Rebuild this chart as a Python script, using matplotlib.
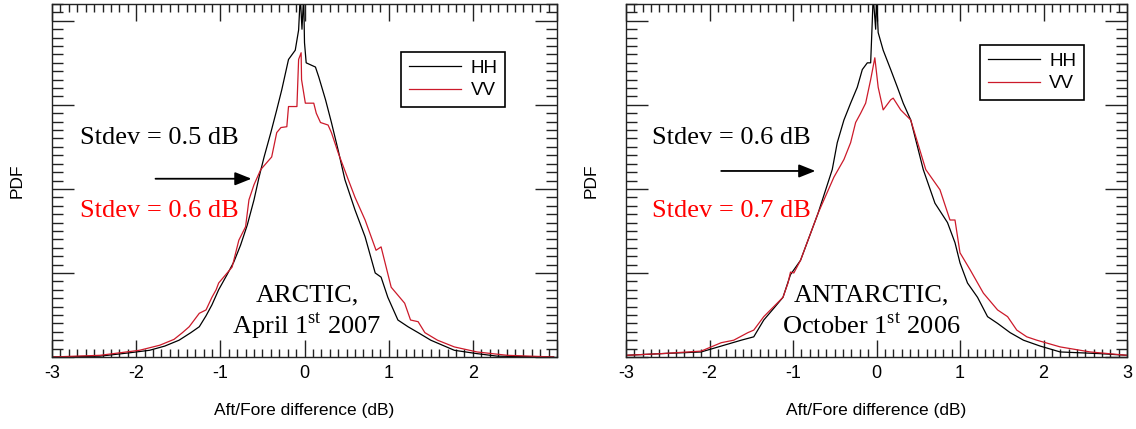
import matplotlib
matplotlib.use("Agg")
import matplotlib.pyplot as plt
from matplotlib.ticker import MultipleLocator, NullFormatter

plt.rcParams['axes.unicode_minus'] = False
plt.rcParams['mathtext.fontset'] = 'custom'
plt.rcParams['mathtext.rm'] = 'Liberation Serif'

# ---- data (x in dB, y in arbitrary PDF units) ----
arctic_hh_x = [-3.00, -2.43, -2.08, -1.84, -1.66, -1.49, -1.35, -1.25, -1.17, -1.10, -1.02, -0.92, -0.84,
               -0.76, -0.68, -0.60, -0.54, -0.48, -0.40, -0.33, -0.27, -0.19, -0.11, -0.07, -0.05, -0.03,
               -0.01, 0.00, 0.02, 0.13, 0.17, 0.25, 0.32, 0.40, 0.48, 0.60, 0.72, 0.84, 0.91, 0.99, 1.11,
               1.23, 1.35, 1.50, 1.78, 2.05, 2.29, 2.96]
arctic_hh_y = [0.00, 0.01, 0.05, 0.08, 0.13, 0.20, 0.29, 0.36, 0.49, 0.62, 0.80, 0.98, 1.13,
               1.33, 1.57, 1.87, 2.14, 2.38, 2.67, 2.94, 3.18, 3.54, 3.65, 3.89, 4.30, 3.90,
               4.30, 3.74, 3.50, 3.45, 3.33, 3.06, 2.79, 2.46, 2.11, 1.75, 1.43, 1.00, 0.95, 0.71, 0.44,
               0.36, 0.29, 0.20, 0.08, 0.04, 0.01, 0.00]

arctic_vv_x = [-3.00, -2.43, -1.96, -1.72, -1.55, -1.45, -1.37, -1.25, -1.17, -1.10, -1.05, -1.02, -0.86,
               -0.78, -0.70, -0.66, -0.60, -0.52, -0.39, -0.33, -0.28, -0.21, -0.19, -0.09, -0.07, -0.04,
               -0.035, 0.01, 0.11, 0.14, 0.19, 0.28, 0.32, 0.40, 0.52, 0.60, 0.72, 0.85, 0.91, 0.97, 1.03,
               1.19, 1.26, 1.35, 1.43, 1.58, 1.78, 2.05, 2.41, 2.96]
arctic_vv_y = [0.00, 0.02, 0.08, 0.14, 0.21, 0.29, 0.36, 0.52, 0.56, 0.71, 0.80, 0.88, 1.07,
               1.39, 1.55, 1.87, 2.05, 2.23, 2.38, 2.67, 2.73, 2.74, 2.98, 2.98, 3.54, 3.62,
               3.30, 3.02, 3.02, 2.90, 2.79, 2.76, 2.67, 2.43, 2.11, 1.90, 1.63, 1.27, 1.31, 1.07, 0.83,
               0.64, 0.44, 0.42, 0.29, 0.20, 0.12, 0.06, 0.02, 0.00]

antarc_hh_x = [-3.00, -2.58, -2.10, -1.86, -1.62, -1.47, -1.35, -1.23, -1.12, -1.03, -0.91, -0.70, -0.53,
               -0.47, -0.39, -0.31, -0.23, -0.17, -0.11, -0.07, -0.05, -0.04, -0.01, 0.00, 0.02, 0.08,
               0.17, 0.25, 0.32, 0.41, 0.56, 0.70, 0.85, 0.94, 1.00, 1.09, 1.21, 1.33, 1.45, 1.60, 1.76,
               1.96, 2.20, 2.68, 3.00]
antarc_hh_y = [0.02, 0.04, 0.06, 0.13, 0.20, 0.24, 0.44, 0.58, 0.71, 0.98, 1.15, 1.71, 2.23,
               2.55, 2.82, 3.02, 3.21, 3.42, 3.50, 3.50, 4.01, 4.30, 3.90, 4.30, 3.86, 3.65,
               3.42, 3.21, 3.02, 2.82, 2.23, 1.83, 1.60, 1.36, 1.12, 0.88, 0.71, 0.48, 0.40, 0.29, 0.20,
               0.13, 0.06, 0.04, 0.02]

antarc_vv_x = [-3.00, -2.58, -2.10, -1.86, -1.71, -1.54, -1.47, -1.35, -1.23, -1.12, -1.06, -1.03, -0.99,
               -0.91, -0.70, -0.51, -0.39, -0.31, -0.25, -0.19, -0.13, -0.07, -0.02, 0.02, 0.08, 0.17,
               0.20, 0.29, 0.41, 0.59, 0.76, 0.88, 0.94, 1.00, 1.12, 1.28, 1.45, 1.57, 1.68, 1.80, 1.92,
               2.20, 2.56, 3.00]
antarc_vv_y = [0.02, 0.04, 0.07, 0.17, 0.20, 0.29, 0.32, 0.48, 0.60, 0.71, 0.88, 1.01, 1.00,
               1.15, 1.71, 2.14, 2.35, 2.55, 2.79, 2.90, 3.02, 3.30, 3.56, 3.21, 2.94, 3.06,
               3.08, 2.94, 2.82, 2.23, 1.99, 1.63, 1.63, 1.24, 1.04, 0.76, 0.56, 0.48, 0.32, 0.24, 0.20,
               0.12, 0.06, 0.02]

xticks = [-3, -2, -1, 0, 1, 2, 3]
xticklabels_left = ['-3', '-2', '-1', '0', '1', '2', '']
xticklabels_right = ['-3', '-2', '-1', '0', '1', '2', '3']

HH_COLOR = '#000000'
VV_COLOR = '#cc1a2a'
RED_TEXT = '#ff0000'

fig = plt.figure(figsize=(11.36, 4.29), dpi=100)
W, H = 1136, 429

def make_axes(left_px, right_px):
    return fig.add_axes([left_px / W, 1 - 357 / H, (right_px - left_px) / W, 353 / H])

ax1 = make_axes(52, 557)
ax2 = make_axes(626, 1127)

panels = [
    (ax1, arctic_hh_x, arctic_hh_y, arctic_vv_x, arctic_vv_y, xticklabels_left,
     'Stdev = 0.5 dB', 'Stdev = 0.6 dB', 'ARCTIC,', r'April 1$^{\mathrm{st}}$ 2007',
     (0.897, 0.864)),
    (ax2, antarc_hh_x, antarc_hh_y, antarc_vv_x, antarc_vv_y, xticklabels_right,
     'Stdev = 0.6 dB', 'Stdev = 0.7 dB', 'ANTARCTIC,', r'October 1$^{\mathrm{st}}$ 2006',
     (0.914, 0.884)),
]

for i, (ax, hx, hy, vx, vy, xtl, s1, s2, t1, t2, legpos) in enumerate(panels):
    ax.plot(hx, hy, color=HH_COLOR, lw=0.9, label='HH')
    ax.plot(vx, vy, color=VV_COLOR, lw=0.9, label='VV')
    ax.set_xlim(-3, 3)
    ax.set_ylim(0, 4.2)
    ax.set_xticks(xticks)
    ax.set_xticklabels(xtl, fontsize=13, family='Liberation Sans')
    ax.xaxis.set_minor_locator(MultipleLocator(0.1))
    ax.yaxis.set_major_locator(MultipleLocator(1))
    ax.yaxis.set_minor_locator(MultipleLocator(0.1))
    ax.yaxis.set_major_formatter(NullFormatter())
    ax.tick_params(which='both', direction='in', top=True, right=True, width=1.0, color='#222222')
    ax.tick_params(axis='x', which='major', length=12, pad=6)
    ax.tick_params(axis='x', which='minor', length=6)
    ax.tick_params(axis='y', which='major', length=16)
    ax.tick_params(axis='y', which='minor', length=8)
    for sp in ax.spines.values():
        sp.set_linewidth(1.0)
        sp.set_color('#222222')
    ax.set_xlabel('Aft/Fore difference (dB)', fontsize=12.5, family='Liberation Sans', labelpad=15)
    ax.set_ylabel('PDF', fontsize=12.5, family='Liberation Sans', labelpad=16)

    leg = ax.legend(loc='upper right', bbox_to_anchor=legpos, borderaxespad=0,
                    prop={'family': 'Liberation Sans', 'size': 13.5},
                    fancybox=False, edgecolor='black', framealpha=1,
                    handlelength=2.8, handletextpad=0.5, borderpad=0.4, labelspacing=0.3)
    leg.get_frame().set_linewidth(1.2)

    # annotations (axes-fraction positions)
    if i == 0:
        sx, y1, y2, a0, a1, ay = 0.055, 0.62, 0.415, 0.205, 0.395, 0.505
        cx = 0.505
    else:
        sx, y1, y2, a0, a1, ay = 0.052, 0.62, 0.415, 0.19, 0.378, 0.527
        cx = 0.49
    ax.text(sx, y1, s1, transform=ax.transAxes, fontsize=19, family='Liberation Serif',
            color='black', va='center', ha='left')
    ax.text(sx, y2, s2, transform=ax.transAxes, fontsize=19, family='Liberation Serif',
            color=RED_TEXT, va='center', ha='left')
    ax.annotate('', xy=(a1, ay), xytext=(a0, ay), xycoords='axes fraction',
                arrowprops=dict(arrowstyle='-|>,head_length=1.0,head_width=0.4',
                                color='black', lw=1.3, shrinkA=0, shrinkB=0))
    ax.text(cx, 0.175, t1, transform=ax.transAxes, fontsize=19, family='Liberation Serif',
            ha='center', va='center')
    ax.text(cx, 0.09, t2, transform=ax.transAxes, fontsize=19, family='Liberation Serif',
            ha='center', va='center')

fig.savefig('out.png', dpi=100)
